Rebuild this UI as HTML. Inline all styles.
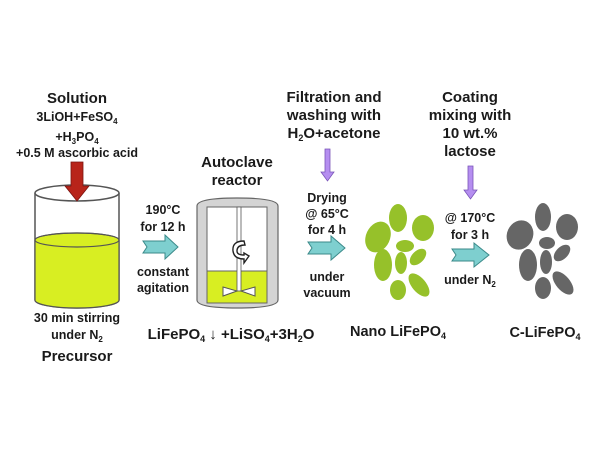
<!DOCTYPE html>
<html><head><meta charset="utf-8"><style>
html,body{margin:0;padding:0;background:#fff;}
svg{display:block;}
text{font-family:"Liberation Sans",sans-serif;font-weight:bold;fill:#1a1a1a;text-anchor:middle;}
</style></head><body>
<svg width="600" height="450" viewBox="0 0 600 450">
<!-- left texts -->
<text x="77" y="103" font-size="15">Solution</text>
<text x="77" y="121" font-size="12.5">3LiOH+FeSO<tspan font-size="8" dy="3">4</tspan></text>
<text x="77" y="141" font-size="12.5">+H<tspan font-size="8" dy="3">3</tspan><tspan dy="-3">PO</tspan><tspan font-size="8" dy="3">4</tspan></text>
<text x="77" y="157" font-size="12.5">+0.5 M ascorbic acid</text>
<!-- beaker -->
<path d="M35,193 L35,300 A42,8 0 0 0 119,300 L119,193" fill="none" stroke="#555" stroke-width="1.5"/>
<path d="M35,240 L35,300 A42,8 0 0 0 119,300 L119,240 A42,7 0 0 0 35,240 Z" fill="#d8ee22" stroke="#555" stroke-width="1.2"/>
<ellipse cx="77" cy="240" rx="42" ry="7" fill="none" stroke="#555" stroke-width="1.2"/>
<ellipse cx="77" cy="193" rx="42" ry="8" fill="#fff" stroke="#555" stroke-width="1.5"/>
<polygon points="71,162 83,162 83,186 89,186 77,201 65,186 71,186" fill="#b8241a" stroke="#7a1410" stroke-width="0.8"/>
<text x="77" y="322" font-size="12.5">30 min stirring</text>
<text x="77" y="339" font-size="12.5">under  N<tspan font-size="8" dy="3">2</tspan></text>
<text x="77" y="361" font-size="15">Precursor</text>
<!-- step 1 -->
<text x="163" y="214" font-size="12.5">190°C</text>
<text x="163" y="231" font-size="12.5">for 12 h</text>
<polygon points="143,241 165,241 165,235 178,247 165,259 165,253 143,253 147,247" fill="#7ecfcf" stroke="#3b8a8a" stroke-width="1"/>
<text x="163" y="276" font-size="12.5">constant</text>
<text x="163" y="292" font-size="12.5">agitation</text>
<!-- autoclave -->
<text x="237" y="167" font-size="15">Autoclave</text>
<text x="237" y="185" font-size="15">reactor</text>
<path d="M197,206 Q197,198 237,198 Q278,198 278,206 L278,300 Q278,308 237,308 Q197,308 197,300 Z" fill="#d4d4d4" stroke="#666" stroke-width="1.2"/>
<rect x="207" y="207" width="60" height="96" fill="#fff" stroke="#666" stroke-width="1"/>
<rect x="207" y="271" width="60" height="32" fill="#d8ee22" stroke="#666" stroke-width="1"/>
<rect x="237" y="207" width="4" height="84" fill="#fff" stroke="#555" stroke-width="0.8"/>
<path d="M223,287 L237,291 L223,296 Z M255,287 L241,291 L255,296 Z" fill="#fff" stroke="#555" stroke-width="1"/>
<path d="M244,241 Q232,241 233,251 Q234,259 244,259 L244,263 L249,256 L244,253 L244,255 Q237,255 237,251 Q237,245 245,245 Z" fill="#fff" stroke="#222" stroke-width="1.4"/>
<text x="231" y="339" font-size="15">LiFePO<tspan font-size="9" dy="3">4</tspan><tspan dy="-3"> ↓ +LiSO</tspan><tspan font-size="9" dy="3">4</tspan><tspan dy="-3">+3H</tspan><tspan font-size="9" dy="3">2</tspan><tspan dy="-3">O</tspan></text>
<!-- step 2 -->
<text x="334" y="102" font-size="15">Filtration and</text>
<text x="334" y="120" font-size="15">washing with</text>
<text x="334" y="138" font-size="15">H<tspan font-size="9" dy="3">2</tspan><tspan dy="-3">O+acetone</tspan></text>
<polygon points="325,149 330,149 330,172 334,172 327.5,181 321,172 325,172" fill="#b58ef0" stroke="#7a55b8" stroke-width="0.8"/>
<text x="327" y="202" font-size="12.5">Drying</text>
<text x="327" y="218" font-size="12.5">@ 65°C</text>
<text x="327" y="234" font-size="12.5">for 4 h</text>
<polygon points="308,242 331,242 331,236 345,248 331,260 331,254 308,254 312,248" fill="#7ecfcf" stroke="#3b8a8a" stroke-width="1"/>
<text x="327" y="281" font-size="12.5">under</text>
<text x="327" y="297" font-size="12.5">vacuum</text>
<!-- green particles -->
<g fill="#96c12a">
<ellipse cx="378" cy="237" rx="12" ry="16" transform="rotate(25 378 237)"/>
<ellipse cx="398" cy="218" rx="9" ry="14"/>
<ellipse cx="423" cy="228" rx="11" ry="13"/>
<ellipse cx="405" cy="246" rx="9" ry="6"/>
<ellipse cx="383" cy="265" rx="9" ry="16"/>
<ellipse cx="401" cy="263" rx="6" ry="11"/>
<ellipse cx="418" cy="257" rx="6" ry="10" transform="rotate(45 418 257)"/>
<ellipse cx="398" cy="290" rx="8" ry="10"/>
<ellipse cx="419" cy="285" rx="7" ry="14" transform="rotate(-40 419 285)"/>
</g>
<text x="398" y="336" font-size="14.5">Nano LiFePO<tspan font-size="9" dy="3">4</tspan></text>
<!-- step 3 -->
<text x="470" y="102" font-size="15">Coating</text>
<text x="470" y="120" font-size="15">mixing with</text>
<text x="470" y="138" font-size="15">10 wt.%</text>
<text x="470" y="156" font-size="15">lactose</text>
<polygon points="468,166 473,166 473,190 477,190 470.5,199 464,190 468,190" fill="#b58ef0" stroke="#7a55b8" stroke-width="0.8"/>
<text x="470" y="222" font-size="12.5">@ 170°C</text>
<text x="470" y="239" font-size="12.5">for 3 h</text>
<polygon points="452,249 474,249 474,243 489,255 474,267 474,261 452,261 456,255" fill="#7ecfcf" stroke="#3b8a8a" stroke-width="1"/>
<text x="470" y="284" font-size="12.5">under N<tspan font-size="8" dy="3">2</tspan></text>
<!-- grey particles -->
<g fill="#666">
<ellipse cx="520" cy="235" rx="13" ry="15" transform="rotate(25 520 235)"/>
<ellipse cx="543" cy="217" rx="8" ry="14"/>
<ellipse cx="567" cy="227" rx="11" ry="13"/>
<ellipse cx="547" cy="243" rx="8" ry="6"/>
<ellipse cx="528" cy="265" rx="9" ry="16"/>
<ellipse cx="546" cy="262" rx="6" ry="12"/>
<ellipse cx="562" cy="253" rx="6" ry="10" transform="rotate(45 562 253)"/>
<ellipse cx="543" cy="288" rx="8" ry="11"/>
<ellipse cx="563" cy="283" rx="7" ry="14" transform="rotate(-40 563 283)"/>
</g>
<text x="545" y="337" font-size="14.5">C-LiFePO<tspan font-size="9" dy="3">4</tspan></text>
</svg>
</body></html>
